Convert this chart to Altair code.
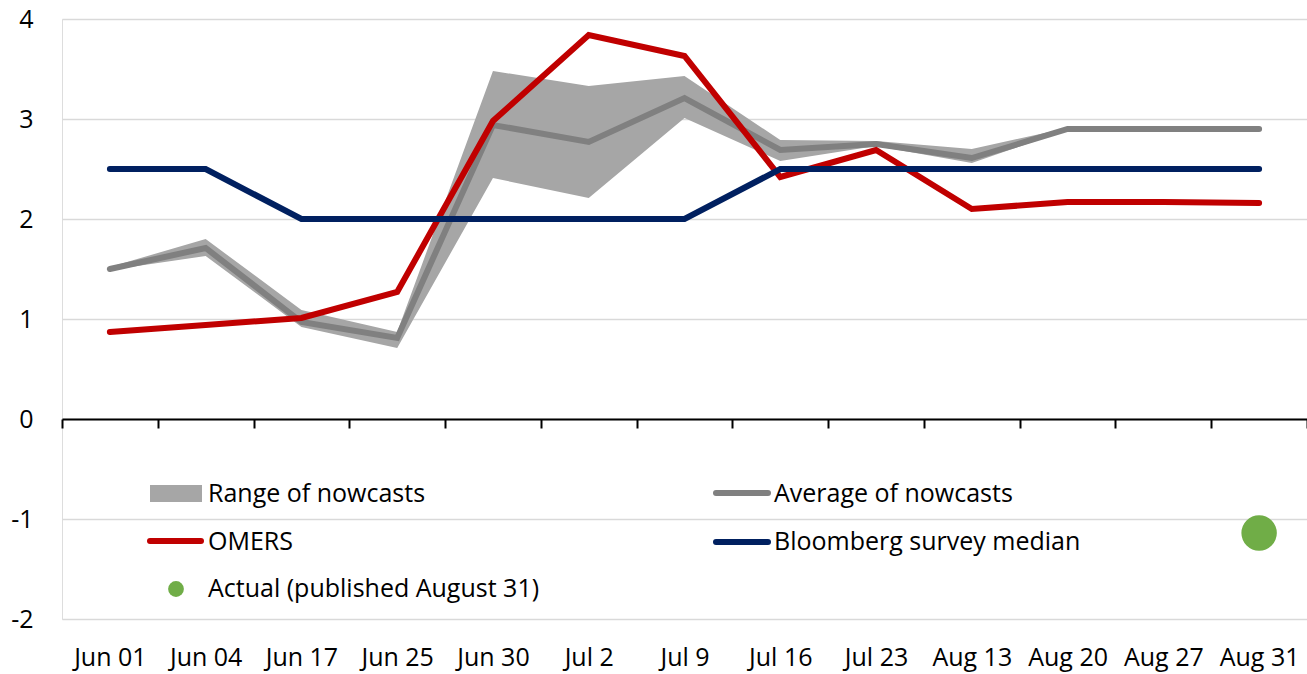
import altair as alt
import pandas as pd

categories = ["Jun 01", "Jun 04", "Jun 17", "Jun 25", "Jun 30", "Jul 2", "Jul 9",
              "Jul 16", "Jul 23", "Aug 13", "Aug 20", "Aug 27", "Aug 31"]
range_low = [1.49, 1.63, 0.92, 0.71, 2.41, 2.21, 3.01, 2.58, 2.73, 2.56, 2.89, 2.89, 2.89]
range_high = [1.52, 1.80, 1.09, 0.87, 3.48, 3.33, 3.43, 2.79, 2.78, 2.70, 2.91, 2.91, 2.91]
average = [1.50, 1.71, 0.97, 0.81, 2.94, 2.77, 3.21, 2.69, 2.75, 2.61, 2.90, 2.90, 2.90]
omers = [0.87, 0.94, 1.01, 1.27, 2.98, 3.84, 3.63, 2.42, 2.69, 2.10, 2.17, 2.17, 2.16]
bloomberg = [2.5, 2.5, 2.0, 2.0, 2.0, 2.0, 2.0, 2.5, 2.5, 2.5, 2.5, 2.5, 2.5]
actual_date = ["Aug 31"]
actual_value = [-1.14]
legend_labels = ["Range of nowcasts", "Average of nowcasts", "OMERS",
                 "Bloomberg survey median", "Actual (published August 31)"]
y_ticks = [-2, -1, 0, 1, 2, 3, 4]

df = pd.DataFrame({"date": categories, "low": range_low, "high": range_high,
                   "avg": average, "omers": omers, "bloom": bloomberg})
df_act = pd.DataFrame({"date": actual_date, "value": actual_value})

FONT = "Open Sans"
FS = 25
RED = "#C00000"
NAVY = "#002060"
GREY = "#808080"
RANGE = "#A6A6A6"
GREEN = "#70AD47"

x_enc = alt.X("date:N", sort=categories,
              scale=alt.Scale(type="band", paddingInner=0, paddingOuter=0),
              axis=alt.Axis(title=None, orient="bottom", offset=-200, domainColor="#000000",
                            domainWidth=2, tickColor="#000000", tickWidth=2, tickSize=9,
                            tickBand="extent", labelAngle=0, labelFont=FONT, labelFontSize=FS,
                            labelColor="#000000", labelBaseline="alphabetic",
                            labelPadding=237, grid=False))
y_scale = alt.Scale(domain=[-2, 4], nice=False, zero=False)
y_axis = alt.Axis(title=None, values=y_ticks, grid=True, gridColor="#D9D9D9", gridWidth=1.5,
                  domain=False, ticks=False, labelFont=FONT, labelFontSize=FS,
                  labelColor="#000000", labelPadding=29, labelAlign="right",
                  labelExpr="'' + datum.value")

base = alt.Chart(df)

area = base.mark_area(color=RANGE, opacity=1).encode(
    x=x_enc,
    y=alt.Y("low:Q", scale=y_scale, axis=y_axis),
    y2="high:Q",
)
avg_line = base.mark_line(color=GREY, strokeWidth=6, strokeCap="round").encode(
    x=alt.X("date:N", sort=categories), y=alt.Y("avg:Q", scale=y_scale))
omers_line = base.mark_line(color=RED, strokeWidth=6, strokeCap="round").encode(
    x=alt.X("date:N", sort=categories), y=alt.Y("omers:Q", scale=y_scale))
bloom_line = base.mark_line(color=NAVY, strokeWidth=6, strokeCap="round").encode(
    x=alt.X("date:N", sort=categories), y=alt.Y("bloom:Q", scale=y_scale))
actual_pt = alt.Chart(df_act).mark_circle(color=GREEN, opacity=1, size=1257).encode(
    x=alt.X("date:N", sort=categories), y=alt.Y("value:Q", scale=y_scale))

# legend (drawn inside the plot area)
def leg_text(label, x, y):
    return alt.Chart(pd.DataFrame({"label": [label]})).mark_text(
        font=FONT, fontSize=FS, color="#000000", align="left", baseline="alphabetic"
    ).encode(text="label:N", x=alt.value(x), y=alt.value(y))

def leg_rule(label, color, x1, x2, y):
    return alt.Chart(pd.DataFrame({"label": [label]})).mark_rule(
        color=color, strokeWidth=6, strokeCap="round"
    ).encode(x=alt.value(x1), x2=alt.value(x2), y=alt.value(y))

leg_rect = alt.Chart(pd.DataFrame({"label": [legend_labels[0]]})).mark_rect(color=RANGE).encode(
    x=alt.value(88), x2=alt.value(140), y=alt.value(466), y2=alt.value(483))
leg_dot = alt.Chart(pd.DataFrame({"label": [legend_labels[4]]})).mark_circle(
    color=GREEN, opacity=1, size=250).encode(x=alt.value(114), y=alt.value(570))

legend = [
    leg_rect, leg_text(legend_labels[0], 146, 483),
    leg_rule(legend_labels[1], GREY, 654, 706, 474), leg_text(legend_labels[1], 712, 483),
    leg_rule(legend_labels[2], RED, 88, 139, 522), leg_text(legend_labels[2], 146, 531),
    leg_rule(legend_labels[3], NAVY, 654, 706, 523), leg_text(legend_labels[3], 712, 531),
    leg_dot, leg_text(legend_labels[4], 146, 578),
]

chart = alt.layer(area, avg_line, omers_line, bloom_line, actual_pt, *legend).properties(
    width=1245, height=600,
    padding={"left": 62, "top": 19, "right": 0, "bottom": 55},
    autosize=alt.AutoSizeParams(type="none"),
).configure_view(stroke=None).configure(font=FONT)

chart.save("out.html", embed_options={"renderer": "svg", "actions": False})
